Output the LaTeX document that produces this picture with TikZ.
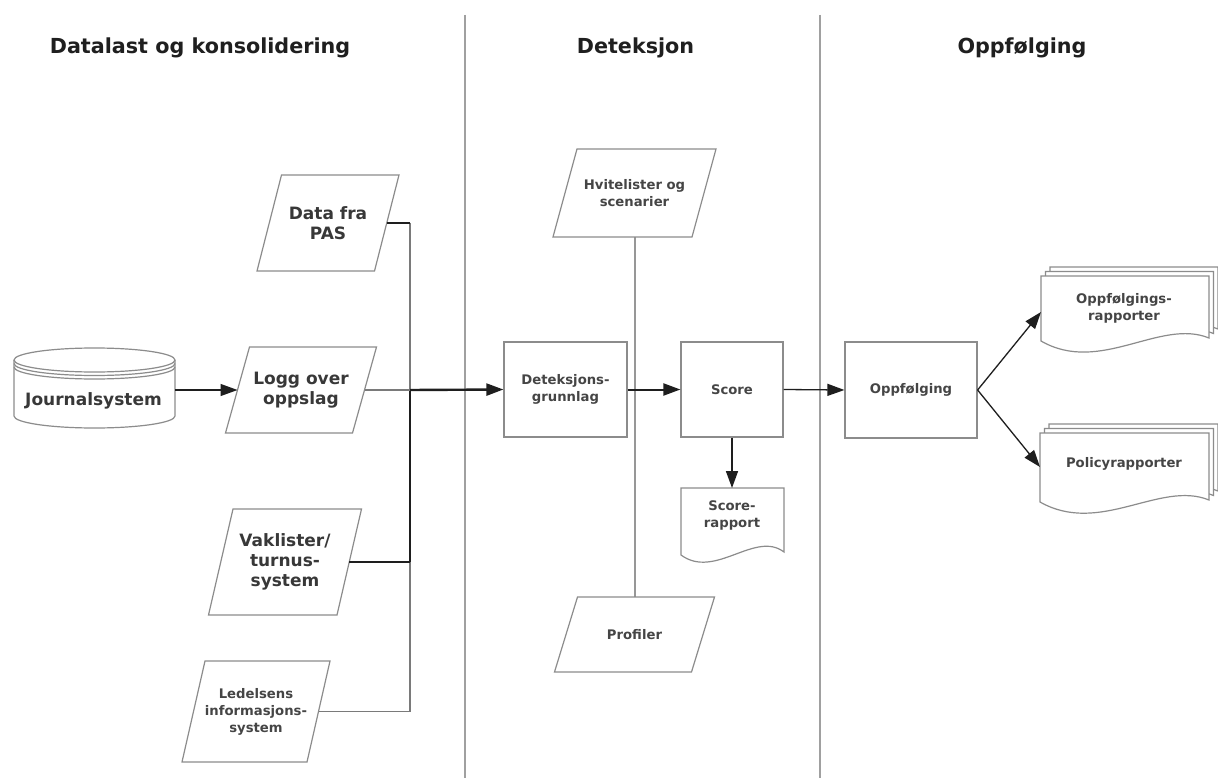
\documentclass[tikz,border=0pt]{standalone}
\usepackage{fontspec}
\setmainfont{DejaVu Sans}
\usetikzlibrary{arrows.meta}
\definecolor{edgecol}{HTML}{8C8C8C}
\definecolor{sepcol}{HTML}{A0A0A0}
\definecolor{txtcol}{HTML}{383838}
\definecolor{smtxtcol}{HTML}{454545}
\definecolor{conncol}{HTML}{1E1E1E}
\definecolor{greyconn}{HTML}{7A7A7A}

\tikzset{
 shapeline/.style={draw=edgecol, line width=1.2pt, fill=white},
 bigtxt/.style={font=\bfseries\fontsize{17}{20}\selectfont, text=txtcol, align=center},
 smalltxt/.style={font=\bfseries\fontsize{13.2}{17}\selectfont, text=smtxtcol, align=center},
 header/.style={font=\bfseries\fontsize{20.7}{24}\selectfont, text=black!88, anchor=base},
 boxnode/.style={shapeline, smalltxt, inner sep=0pt},
 conn/.style={draw=conncol, line width=1.3pt},
 greyline/.style={draw=greyconn, line width=1.3pt},
 arr/.style={conn, -{Triangle[length=17pt,width=12pt]}},
 thickarr/.style={arr, line width=2.4pt},
 sepline/.style={draw=sepcol, line width=2.5pt},
 vline/.style={draw=edgecol!90, line width=2pt},
}

% parallelogram: name, cx, cy, w, h, slant, text style, text
\newcommand\paragram[8]{%
 \draw[shapeline] ({#2-#4/2+#6/2},{#3-#5/2}) -- ({#2+#4/2+#6/2},{#3-#5/2})
   -- ({#2+#4/2-#6/2},{#3+#5/2}) -- ({#2-#4/2-#6/2},{#3+#5/2}) -- cycle;
 \node[#7] (#1) at (#2,#3) {#8};
 \coordinate (#1-e) at ({#2+#4/2},#3);
 \coordinate (#1-w) at ({#2-#4/2},#3);
 \coordinate (#1-n) at (#2,{#3-#5/2});
 \coordinate (#1-s) at (#2,{#3+#5/2});
}

\begin{document}
\begin{tikzpicture}[x=1pt,y=-1pt]
\useasboundingbox (0,0) rectangle (1218,778);
\fill[white] (0,0) rectangle (1218,778);

% lane separators
\draw[sepline] (465,15) -- (465,778);
\draw[sepline] (820,15) -- (820,778);

% headers
\node[header] (h1) at (200,54) {Datalast og konsolidering};
\node[header] (h2) at (635.5,54) {Deteksjon};
\node[header] (h3) at (1022,54) {Oppfølging};

% vertical line Hvitelister -- Profiler (behind)
\coordinate (hv-s0) at (634.5,237);
\coordinate (pr-n0) at (634.5,597);
\draw[vline] (hv-s0) -- (pr-n0);

% Journalsystem cylinder
\fill[white] (14,360) rectangle (175,416);
\draw[shapeline] (14,360) -- (14,416) arc[start angle=180, end angle=0, x radius=80.5, y radius=12] -- (175,360);
\draw[shapeline] (94.5,360) ellipse [x radius=80.5, y radius=12];
\draw[draw=edgecol, line width=1.2pt] (14,363.5) arc[start angle=180, end angle=0, x radius=80.5, y radius=12];
\draw[draw=edgecol, line width=1.2pt] (14,367) arc[start angle=180, end angle=0, x radius=80.5, y radius=12];
\node[bigtxt] (journal) at (93.5,401) {Journalsystem};
\coordinate (journal-e) at (175,390);

% input parallelograms
\paragram{pas}{328}{223}{117.5}{96}{24.5}{bigtxt}{Data fra\\PAS}
\paragram{logg}{301}{390}{127}{86}{24}{bigtxt}{Logg over\\oppslag}
\paragram{vakt}{285}{562}{128.5}{106}{24.5}{bigtxt}{Vaklister/\\turnus-\\system}
\paragram{led}{256}{711.5}{125}{101}{23}{smalltxt}{Ledelsens\\informasjons-\\system}

\paragram{hvit}{634.5}{193}{139}{88}{24}{smalltxt}{Hvitelister og\\scenarier}
\paragram{prof}{634.5}{634.5}{137}{75}{23}{smalltxt}{Profiler}

% process boxes
\node[boxnode, minimum width=123pt, minimum height=95pt] (det) at (565.5,389.5) {Deteksjons-\\grunnlag};
\node[boxnode, minimum width=102pt, minimum height=95pt] (score) at (732,389.5) {Score};
\node[boxnode, minimum width=132pt, minimum height=96pt] (oppf) at (911,390) {Oppfølging};

% Score-rapport document
\draw[shapeline] (681,488) -- (784,488) -- (784,552) .. controls (755,530) and (715,580) .. (681,555) -- cycle;
\node[smalltxt] (srap) at (732,515) {Score-\\rapport};
\coordinate (srap-n) at (732,488);

% Oppfølgingsrapporter (multi document)
\draw[shapeline] (1050,267) -- (1218,267) -- (1218,329) .. controls (1169,309) and (1109,366) .. (1050,332) -- cycle;
\draw[shapeline] (1045.5,271.5) -- (1213.5,271.5) -- (1213.5,333.5) .. controls (1164.5,313.5) and (1104.5,370.5) .. (1045.5,336.5) -- cycle;
\draw[shapeline] (1041,276) -- (1209,276) -- (1209,338) .. controls (1160,318) and (1100,375) .. (1041,341) -- cycle;
\node[smalltxt] (orap) at (1124,308) {Oppfølgings-\\rapporter};
\coordinate (orap-w) at (1041,312);

% Policyrapporter (multi document)
\draw[shapeline] (1049,424) -- (1218,424) -- (1218,491) .. controls (1169,471) and (1109,527) .. (1049,493) -- cycle;
\draw[shapeline] (1044.5,428.5) -- (1213.5,428.5) -- (1213.5,495.5) .. controls (1164.5,475.5) and (1104.5,531.5) .. (1044.5,497.5) -- cycle;
\draw[shapeline] (1040,433) -- (1209,433) -- (1209,500) .. controls (1160,480) and (1100,536) .. (1040,502) -- cycle;
\node[smalltxt] (prap) at (1124,464) {Policyrapporter};
\coordinate (prap-w) at (1040,467);

% connectors, left lane
\coordinate (jtop) at (410,223);
\coordinate (jmid) at (410,390);
\coordinate (jvak) at (410,562);
\coordinate (jbot) at (410,711.5);
\draw[arr] (journal-e) -- (logg-w);
\draw[greyline] (jtop) -- (jbot);
\draw[conn] (jmid) -- (jvak);
\draw[conn] (pas-e) -- (jtop);
\draw[greyline] (logg-e) -- (jmid);
\draw[conn] (vakt-e) -- (jvak);
\draw[greyline] (led-e) -- (jbot);
\draw[thickarr] (jmid) -- (det.west);

% detection lane
\draw[thickarr, line width=2pt] (det.east) -- (score.west);
\draw[arr, line width=1.6pt] (score.south) -- (srap-n);
\draw[arr] (score.east) -- (oppf.west);

% follow-up lane
\draw[arr] (oppf.east) -- (orap-w);
\draw[arr] (oppf.east) -- (prap-w);
\end{tikzpicture}
\end{document}
